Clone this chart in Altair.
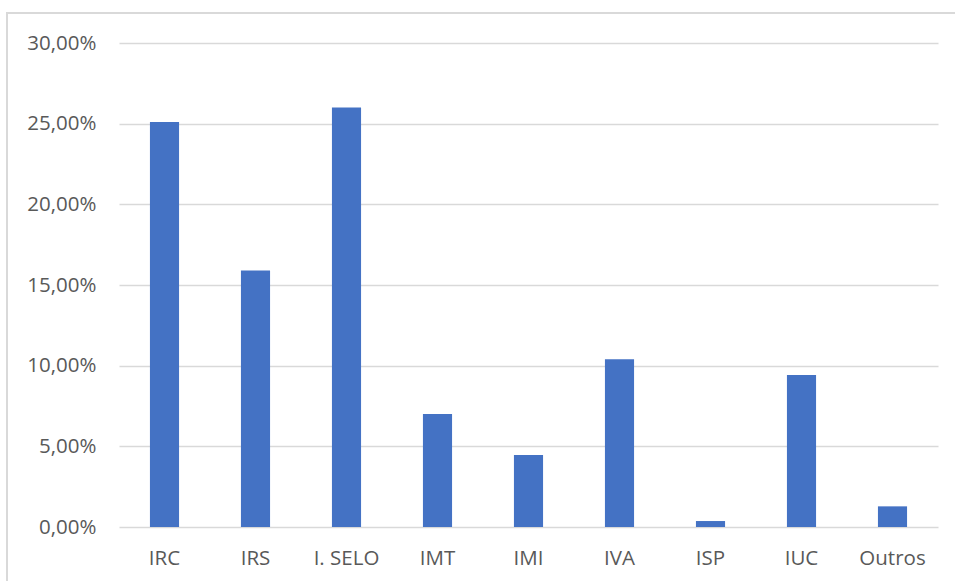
import altair as alt
import pandas as pd

categories = ["IRC", "IRS", "I. SELO", "IMT", "IMI", "IVA", "ISP", "IUC", "Outros"]
values = [0.251, 0.159, 0.260, 0.070, 0.0446, 0.1039, 0.0037, 0.0942, 0.0128]
y_ticks = [0, 0.05, 0.10, 0.15, 0.20, 0.25, 0.30]

df = pd.DataFrame({"cat": categories, "val": values})

FONT = "Open Sans"
GREY = "#595959"
GRID = "#d9d9d9"

bars = alt.Chart(df).mark_bar(color="#4472C4", width=alt.RelativeBandSize(0.32)).encode(
    x=alt.X("cat:N", sort=categories, title=None,
            scale=alt.Scale(paddingInner=0, paddingOuter=0),
            axis=alt.Axis(labelAngle=0, ticks=False, domain=False, labelPadding=21,
                          labelFont=FONT, labelFontSize=20.5, labelColor=GREY)),
    y=alt.Y("val:Q", title=None,
            scale=alt.Scale(domain=[0, 0.30], nice=False, zero=True),
            axis=alt.Axis(values=y_ticks, labelExpr="replace(format(datum.value*100, '.2f'), '.', ',') + '%'",
                          ticks=False, domain=False, labelPadding=23,
                          labelFont=FONT, labelFontSize=20.5, labelColor=GREY,
                          grid=True, gridColor=GRID, gridWidth=1.3)),
)

frame = alt.Chart(df).mark_rect(fill=None, stroke=GRID, strokeWidth=1.3).encode(
    x=alt.value(-112), x2=alt.value(900), y=alt.value(-30), y2=alt.value(700)
)

chart = alt.layer(frame, bars).properties(
    width=819, height=484,
    padding={"left": 119, "top": 43, "right": 17, "bottom": 54},
    autosize=alt.AutoSizeParams(type="none"),
    background="white",
).configure_view(stroke=None)

chart.save("out.html", embed_options={"renderer": "svg", "actions": False})
